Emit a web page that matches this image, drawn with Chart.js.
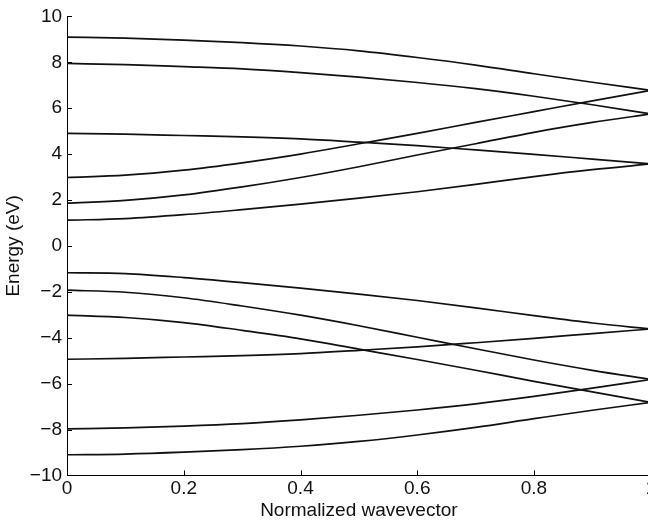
<!DOCTYPE html>
<html>
<head>
<meta charset="utf-8">
<script src="https://cdn.jsdelivr.net/npm/chart.js@4.4.1/dist/chart.umd.min.js"></script>
<style>
  html, body { margin: 0; padding: 0; background: #fff; overflow: hidden; }
  #wrap { width: 658px; height: 522px; }
</style>
</head>
<body>
<div id="wrap"><canvas id="bands" width="658" height="522"></canvas></div>
<script>
// wavevector samples (normalized)
const kPoints = [0, 0.1, 0.2, 0.3, 0.4, 0.5, 0.6, 0.7, 0.8, 0.9, 1.0];

// conduction bands (eV)
const bandC1 = [9.10, 9.05, 8.97, 8.86, 8.71, 8.50, 8.21, 7.88, 7.50, 7.13, 6.78];
const bandC2 = [7.95, 7.90, 7.81, 7.71, 7.55, 7.35, 7.12, 6.85, 6.52, 6.15, 5.75];
const bandC3 = [4.90, 4.87, 4.81, 4.75, 4.66, 4.52, 4.37, 4.18, 3.99, 3.78, 3.57];
const bandC4 = [2.98, 3.08, 3.30, 3.62, 4.00, 4.45, 4.90, 5.38, 5.85, 6.32, 6.78];
const bandC5 = [1.86, 1.98, 2.22, 2.57, 2.98, 3.45, 3.96, 4.45, 4.95, 5.38, 5.75];
const bandC6 = [1.12, 1.19, 1.36, 1.58, 1.82, 2.08, 2.36, 2.68, 3.02, 3.32, 3.57];

// valence bands (eV)
const bandV1 = [-1.17, -1.21, -1.38, -1.60, -1.84, -2.10, -2.38, -2.70, -3.04, -3.36, -3.62];
const bandV2 = [-1.93, -2.02, -2.26, -2.62, -3.02, -3.48, -3.98, -4.48, -4.97, -5.42, -5.82];
const bandV3 = [-3.02, -3.12, -3.34, -3.68, -4.05, -4.50, -4.95, -5.42, -5.90, -6.36, -6.82];
const bandV4 = [-4.94, -4.90, -4.84, -4.78, -4.69, -4.55, -4.40, -4.22, -4.03, -3.82, -3.62];
const bandV5 = [-7.97, -7.93, -7.85, -7.74, -7.58, -7.38, -7.15, -6.88, -6.56, -6.20, -5.82];
const bandV6 = [-9.10, -9.07, -8.99, -8.88, -8.73, -8.52, -8.24, -7.91, -7.53, -7.16, -6.82];

const allBands = [bandC1, bandC2, bandC3, bandC4, bandC5, bandC6,
                  bandV1, bandV2, bandV3, bandV4, bandV5, bandV6];

const xTicks = [0, 0.2, 0.4, 0.6, 0.8, 1];
const yTicks = [-10, -8, -6, -4, -2, 0, 2, 4, 6, 8, 10];

// ticks drawn inside the plot, like the original figure
const innerTicks = {
    id: 'innerTicks',
    afterDraw(chart) {
        const { ctx, chartArea, scales } = chart;
        ctx.save();
        ctx.strokeStyle = '#000';
        ctx.lineWidth = 1;
        ctx.beginPath();
        xTicks.forEach(v => {
            const px = Math.round(scales.x.getPixelForValue(v)) + 0.5;
            ctx.moveTo(px, chartArea.bottom);
            ctx.lineTo(px, chartArea.bottom - 5);
        });
        yTicks.forEach(v => {
            const py = Math.round(scales.y.getPixelForValue(v)) + 0.5;
            ctx.moveTo(chartArea.left, py);
            ctx.lineTo(chartArea.left + 5, py);
        });
        ctx.stroke();
        ctx.restore();
    }
};

const fontFamily = '"Liberation Sans", Arial, Helvetica, sans-serif';

new Chart(document.getElementById('bands'), {
    type: 'line',
    data: {
        datasets: allBands.map((band, i) => ({
            label: 'band ' + (i + 1),
            data: kPoints.map((k, j) => ({ x: k, y: band[j] })),
            borderColor: '#111',
            borderWidth: 1.7,
            pointRadius: 0,
            fill: false,
            cubicInterpolationMode: 'monotone'
        }))
    },
    options: {
        responsive: false,
        animation: false,
        layout: { padding: { top: 4, right: 2, left: 2, bottom: 0 } },
        plugins: {
            legend: { display: false },
            tooltip: { enabled: false }
        },
        scales: {
            x: {
                type: 'linear',
                min: 0,
                max: 1,
                afterBuildTicks: s => { s.ticks = xTicks.map(v => ({ value: v })); },
                grid: { display: false, drawTicks: false },
                border: { display: true, color: '#000', width: 1 },
                ticks: {
                    color: '#111',
                    padding: 2,
                    maxRotation: 0,
                    font: { family: fontFamily, size: 19 },
                    callback: v => String(v)
                },
                title: {
                    display: true,
                    text: 'Normalized wavevector',
                    color: '#111',
                    padding: { top: -3, bottom: 0 },
                    font: { family: fontFamily, size: 19 }
                }
            },
            y: {
                min: -10,
                max: 10,
                afterBuildTicks: s => { s.ticks = yTicks.map(v => ({ value: v })); },
                grid: { display: false, drawTicks: false },
                border: { display: true, color: '#000', width: 1 },
                ticks: {
                    color: '#111',
                    padding: 5,
                    font: { family: fontFamily, size: 19 },
                    callback: v => String(v).replace('-', '\u2212')
                },
                title: {
                    display: true,
                    text: 'Energy (eV)',
                    color: '#111',
                    padding: { top: 0, bottom: 0 },
                    font: { family: fontFamily, size: 19 }
                }
            }
        }
    },
    plugins: [innerTicks]
});
</script>
</body>
</html>
